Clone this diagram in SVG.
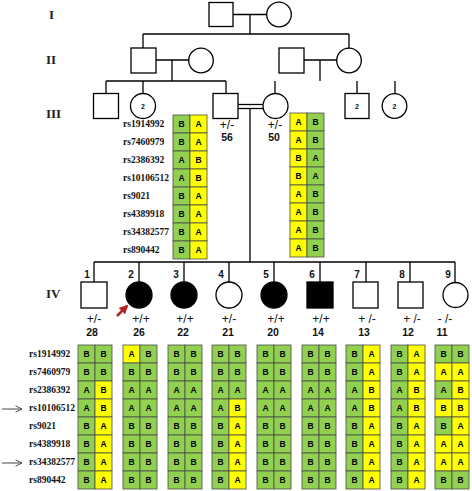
<svg xmlns="http://www.w3.org/2000/svg" width="472" height="491" viewBox="0 0 472 491">
<defs>
<style>
.ln{stroke:#000;stroke-width:1.3;fill:none}
.sym{stroke:#000;stroke-width:1.3;fill:#fff}
.aff{stroke:#000;stroke-width:1.3;fill:#000}
.gen{font-family:"Liberation Serif","Times New Roman",serif;font-weight:bold;font-size:13px;fill:#222}
.snp{font-family:"Liberation Serif","Times New Roman",serif;font-weight:bold;font-size:9.5px;fill:#111}
.num{font-family:"Liberation Sans",Arial,sans-serif;font-weight:bold;font-size:10px;fill:#111;text-anchor:middle}
.gt{font-family:"Liberation Sans",Arial,sans-serif;font-size:12px;fill:#111;text-anchor:middle}
.cnt{font-family:"Liberation Sans",Arial,sans-serif;font-weight:bold;font-size:10.5px;fill:#111;text-anchor:middle}
.sm{font-family:"Liberation Sans",Arial,sans-serif;font-weight:bold;font-size:7px;fill:#111;text-anchor:middle}
.g{fill:#92D050;stroke:#4a4a4a;stroke-width:0.8}
.y{fill:#FFFF00;stroke:#4a4a4a;stroke-width:0.8}
.c{font-family:"Liberation Sans",Arial,sans-serif;font-weight:bold;font-size:8.5px;fill:#000;text-anchor:middle}
</style>
<marker id="ah" viewBox="0 0 10 10" refX="9" refY="5" markerWidth="8" markerHeight="8" orient="auto" markerUnits="userSpaceOnUse">
<path d="M1,1 L9,5 L1,9" fill="none" stroke="#444" stroke-width="1.2"/>
</marker>
<marker id="rh" viewBox="0 0 10 10" refX="8" refY="5" markerWidth="9" markerHeight="9" orient="auto" markerUnits="userSpaceOnUse">
<path d="M0,0 L10,5 L0,10 z" fill="#b22222"/>
</marker>
</defs>

<g id="generation-labels">
<text class="gen" x="49" y="19">I</text>
<text class="gen" x="46" y="64">II</text>
<text class="gen" x="46" y="118">III</text>
<text class="gen" x="46" y="298">IV</text>
</g>

<g id="connectors">
<line class="ln" x1="233" y1="14.5" x2="267" y2="14.5"/>
<line class="ln" x1="250" y1="14.5" x2="250" y2="34"/>
<line class="ln" x1="143" y1="34" x2="349" y2="34"/>
<line class="ln" x1="143" y1="34" x2="143" y2="48"/>
<line class="ln" x1="349" y1="34" x2="349" y2="48"/>
<line class="ln" x1="156" y1="60" x2="189" y2="60"/>
<line class="ln" x1="172" y1="60" x2="172" y2="81"/>
<line class="ln" x1="304" y1="60" x2="337" y2="60"/>
<line class="ln" x1="320" y1="60" x2="320" y2="81"/>
<line class="ln" x1="106" y1="81" x2="226" y2="81"/>
<line class="ln" x1="106" y1="81" x2="106" y2="93"/>
<line class="ln" x1="143" y1="81" x2="143" y2="93.5"/>
<line class="ln" x1="226" y1="81" x2="226" y2="93"/>
<line class="ln" x1="275" y1="81" x2="275" y2="93.5"/>
<line class="ln" x1="357" y1="81" x2="357" y2="93"/>
<line class="ln" x1="395" y1="81" x2="395" y2="93.5"/>
<line class="ln" x1="238" y1="104.5" x2="263" y2="104.5"/>
<line class="ln" x1="238" y1="108.5" x2="263" y2="108.5"/>
<line class="ln" x1="250" y1="108.5" x2="250" y2="262"/>
<line class="ln" x1="94" y1="262" x2="455" y2="262"/>
<line class="ln" x1="94" y1="262" x2="94" y2="282"/>
<line class="ln" x1="139" y1="262" x2="139" y2="282"/>
<line class="ln" x1="184" y1="262" x2="184" y2="282"/>
<line class="ln" x1="229" y1="262" x2="229" y2="282"/>
<line class="ln" x1="274" y1="262" x2="274" y2="282"/>
<line class="ln" x1="320" y1="262" x2="320" y2="282"/>
<line class="ln" x1="366" y1="262" x2="366" y2="282"/>
<line class="ln" x1="410" y1="262" x2="410" y2="282"/>
<line class="ln" x1="455" y1="262" x2="455" y2="282"/>
<line x1="2" y1="409" x2="22" y2="409" stroke="#444" stroke-width="1" marker-end="url(#ah)"/>
<line x1="2" y1="463" x2="22" y2="463" stroke="#444" stroke-width="1" marker-end="url(#ah)"/>
<line x1="117" y1="316" x2="127" y2="306" stroke="#b22222" stroke-width="2.5" marker-end="url(#rh)"/>
</g>

<g id="I-1"><rect class="sym" x="209" y="2.5" width="24" height="24"/></g>
<g id="I-2"><circle class="sym" cx="279" cy="14.5" r="12.3"/></g>
<g id="II-1"><rect class="sym" x="131" y="48" width="25" height="25"/></g>
<g id="II-2"><circle class="sym" cx="201" cy="60.5" r="12.3"/></g>
<g id="II-3"><rect class="sym" x="279" y="48" width="25" height="25"/></g>
<g id="II-4"><circle class="sym" cx="349" cy="60.5" r="12.3"/></g>
<g id="III-1"><rect class="sym" x="93.5" y="93.5" width="25" height="25"/></g>
<g id="III-2"><circle class="sym" cx="143" cy="106" r="12.5"/><text class="sm" x="143" y="108.5">2</text></g>
<g id="III-3"><rect class="sym" x="213" y="93.5" width="25" height="25"/>
<text class="gt" x="227" y="129">+/-</text><text class="cnt" x="227" y="141">56</text></g>
<g id="III-4"><circle class="sym" cx="275.5" cy="106" r="12.5"/>
<text class="gt" x="275" y="129">+/-</text><text class="cnt" x="274" y="141">50</text></g>
<g id="III-5"><rect class="sym" x="345" y="93.5" width="24" height="25"/><text class="sm" x="357" y="108.5">2</text></g>
<g id="III-6"><circle class="sym" cx="394.5" cy="106" r="12.3"/><text class="sm" x="394.5" y="108.5">2</text></g>

<g id="haplotype-III-3">
<text class="snp" x="123" y="127">rs1914992</text>
<text class="snp" x="123" y="145">rs7460979</text>
<text class="snp" x="123" y="163">rs2386392</text>
<text class="snp" x="123" y="181">rs10106512</text>
<text class="snp" x="123" y="199">rs9021</text>
<text class="snp" x="123" y="217">rs4389918</text>
<text class="snp" x="123" y="235">rs34382577</text>
<text class="snp" x="123" y="253">rs890442</text>
<rect class="g" x="173" y="115" width="17" height="18"/><rect class="y" x="190" y="115" width="17" height="18"/>
<rect class="g" x="173" y="133" width="17" height="18"/><rect class="y" x="190" y="133" width="17" height="18"/>
<rect class="g" x="173" y="151" width="17" height="18"/><rect class="y" x="190" y="151" width="17" height="18"/>
<rect class="g" x="173" y="169" width="17" height="18"/><rect class="y" x="190" y="169" width="17" height="18"/>
<rect class="g" x="173" y="187" width="17" height="18"/><rect class="y" x="190" y="187" width="17" height="18"/>
<rect class="g" x="173" y="205" width="17" height="18"/><rect class="y" x="190" y="205" width="17" height="18"/>
<rect class="g" x="173" y="223" width="17" height="18"/><rect class="y" x="190" y="223" width="17" height="18"/>
<rect class="g" x="173" y="241" width="17" height="18"/><rect class="y" x="190" y="241" width="17" height="18"/>
<text class="c" x="181.5" y="127">B</text><text class="c" x="198.5" y="127">A</text>
<text class="c" x="181.5" y="145">B</text><text class="c" x="198.5" y="145">A</text>
<text class="c" x="181.5" y="163">A</text><text class="c" x="198.5" y="163">B</text>
<text class="c" x="181.5" y="181">A</text><text class="c" x="198.5" y="181">B</text>
<text class="c" x="181.5" y="199">B</text><text class="c" x="198.5" y="199">A</text>
<text class="c" x="181.5" y="217">B</text><text class="c" x="198.5" y="217">A</text>
<text class="c" x="181.5" y="235">B</text><text class="c" x="198.5" y="235">A</text>
<text class="c" x="181.5" y="253">B</text><text class="c" x="198.5" y="253">A</text>
</g>

<g id="haplotype-III-4">
<rect class="y" x="290" y="113" width="17" height="18"/><rect class="g" x="307" y="113" width="17" height="18"/>
<rect class="y" x="290" y="131" width="17" height="18"/><rect class="g" x="307" y="131" width="17" height="18"/>
<rect class="y" x="290" y="149" width="17" height="18"/><rect class="g" x="307" y="149" width="17" height="18"/>
<rect class="y" x="290" y="167" width="17" height="18"/><rect class="g" x="307" y="167" width="17" height="18"/>
<rect class="y" x="290" y="185" width="17" height="18"/><rect class="g" x="307" y="185" width="17" height="18"/>
<rect class="y" x="290" y="203" width="17" height="18"/><rect class="g" x="307" y="203" width="17" height="18"/>
<rect class="y" x="290" y="221" width="17" height="18"/><rect class="g" x="307" y="221" width="17" height="18"/>
<rect class="y" x="290" y="239" width="17" height="18"/><rect class="g" x="307" y="239" width="17" height="18"/>
<text class="c" x="298.5" y="125">A</text><text class="c" x="315.5" y="125">B</text>
<text class="c" x="298.5" y="143">A</text><text class="c" x="315.5" y="143">B</text>
<text class="c" x="298.5" y="161">B</text><text class="c" x="315.5" y="161">A</text>
<text class="c" x="298.5" y="179">B</text><text class="c" x="315.5" y="179">A</text>
<text class="c" x="298.5" y="197">A</text><text class="c" x="315.5" y="197">B</text>
<text class="c" x="298.5" y="215">A</text><text class="c" x="315.5" y="215">B</text>
<text class="c" x="298.5" y="233">A</text><text class="c" x="315.5" y="233">B</text>
<text class="c" x="298.5" y="251">A</text><text class="c" x="315.5" y="251">B</text>
</g>

<g id="IV-labels">
<text class="num" x="87" y="278">1</text>
<text class="num" x="131" y="278">2</text>
<text class="num" x="176" y="278">3</text>
<text class="num" x="221" y="278">4</text>
<text class="num" x="266" y="278">5</text>
<text class="num" x="312" y="278">6</text>
<text class="num" x="357" y="278">7</text>
<text class="num" x="402" y="278">8</text>
<text class="num" x="448" y="278">9</text>
</g>

<g id="IV-1"><rect class="sym" x="81" y="282" width="26" height="26"/>
<text class="gt" x="94" y="323">+/-</text><text class="cnt" x="92" y="336">28</text></g>
<g id="IV-2"><circle class="aff" cx="139" cy="295" r="13"/>
<text class="gt" x="141" y="323">+/+</text><text class="cnt" x="139" y="336">26</text></g>
<g id="IV-3"><circle class="aff" cx="184" cy="295" r="13"/>
<text class="gt" x="185" y="323">+/+</text><text class="cnt" x="183" y="336">22</text></g>
<g id="IV-4"><circle class="sym" cx="229" cy="295" r="13"/>
<text class="gt" x="229" y="323">+/-</text><text class="cnt" x="228" y="336">21</text></g>
<g id="IV-5"><circle class="aff" cx="274" cy="295" r="13"/>
<text class="gt" x="276" y="323">+/+</text><text class="cnt" x="273" y="336">20</text></g>
<g id="IV-6"><rect class="aff" x="307" y="282" width="26" height="26"/>
<text class="gt" x="321" y="323">+/+</text><text class="cnt" x="318" y="336">14</text></g>
<g id="IV-7"><rect class="sym" x="353" y="282" width="25" height="26"/>
<text class="gt" x="367" y="323">+ /-</text><text class="cnt" x="364" y="336">13</text></g>
<g id="IV-8"><rect class="sym" x="398" y="282" width="25" height="26"/>
<text class="gt" x="412" y="323">+ /-</text><text class="cnt" x="408" y="336">12</text></g>
<g id="IV-9"><circle class="sym" cx="455.5" cy="295" r="12.5"/>
<text class="gt" x="445" y="323">- /-</text><text class="cnt" x="442" y="336">11</text></g>

<g id="snp-labels-IV">
<text class="snp" x="29" y="357">rs1914992</text>
<text class="snp" x="29" y="375">rs7460979</text>
<text class="snp" x="29" y="393">rs2386392</text>
<text class="snp" x="29" y="411">rs10106512</text>
<text class="snp" x="29" y="429">rs9021</text>
<text class="snp" x="29" y="447">rs4389918</text>
<text class="snp" x="29" y="465">rs34382577</text>
<text class="snp" x="29" y="483">rs890442</text>
</g>

<g id="haplotype-IV-1">
<rect class="g" x="78" y="345" width="17" height="18"/><rect class="g" x="95" y="345" width="17" height="18"/>
<rect class="g" x="78" y="363" width="17" height="18"/><rect class="g" x="95" y="363" width="17" height="18"/>
<rect class="g" x="78" y="381" width="17" height="18"/><rect class="y" x="95" y="381" width="17" height="18"/>
<rect class="g" x="78" y="399" width="17" height="18"/><rect class="y" x="95" y="399" width="17" height="18"/>
<rect class="g" x="78" y="417" width="17" height="18"/><rect class="y" x="95" y="417" width="17" height="18"/>
<rect class="g" x="78" y="435" width="17" height="18"/><rect class="y" x="95" y="435" width="17" height="18"/>
<rect class="g" x="78" y="453" width="17" height="18"/><rect class="y" x="95" y="453" width="17" height="18"/>
<rect class="g" x="78" y="471" width="17" height="18"/><rect class="y" x="95" y="471" width="17" height="18"/>
<text class="c" x="86.5" y="357">B</text><text class="c" x="103.5" y="357">B</text>
<text class="c" x="86.5" y="375">B</text><text class="c" x="103.5" y="375">B</text>
<text class="c" x="86.5" y="393">A</text><text class="c" x="103.5" y="393">B</text>
<text class="c" x="86.5" y="411">A</text><text class="c" x="103.5" y="411">B</text>
<text class="c" x="86.5" y="429">B</text><text class="c" x="103.5" y="429">A</text>
<text class="c" x="86.5" y="447">B</text><text class="c" x="103.5" y="447">A</text>
<text class="c" x="86.5" y="465">B</text><text class="c" x="103.5" y="465">A</text>
<text class="c" x="86.5" y="483">B</text><text class="c" x="103.5" y="483">A</text>
</g>

<g id="haplotype-IV-2">
<rect class="y" x="123" y="345" width="17" height="18"/><rect class="g" x="140" y="345" width="17" height="18"/>
<rect class="g" x="123" y="363" width="17" height="18"/><rect class="g" x="140" y="363" width="17" height="18"/>
<rect class="g" x="123" y="381" width="17" height="18"/><rect class="g" x="140" y="381" width="17" height="18"/>
<rect class="g" x="123" y="399" width="17" height="18"/><rect class="g" x="140" y="399" width="17" height="18"/>
<rect class="g" x="123" y="417" width="17" height="18"/><rect class="g" x="140" y="417" width="17" height="18"/>
<rect class="g" x="123" y="435" width="17" height="18"/><rect class="g" x="140" y="435" width="17" height="18"/>
<rect class="g" x="123" y="453" width="17" height="18"/><rect class="g" x="140" y="453" width="17" height="18"/>
<rect class="g" x="123" y="471" width="17" height="18"/><rect class="g" x="140" y="471" width="17" height="18"/>
<text class="c" x="131.5" y="357">A</text><text class="c" x="148.5" y="357">B</text>
<text class="c" x="131.5" y="375">B</text><text class="c" x="148.5" y="375">B</text>
<text class="c" x="131.5" y="393">A</text><text class="c" x="148.5" y="393">A</text>
<text class="c" x="131.5" y="411">A</text><text class="c" x="148.5" y="411">A</text>
<text class="c" x="131.5" y="429">B</text><text class="c" x="148.5" y="429">B</text>
<text class="c" x="131.5" y="447">B</text><text class="c" x="148.5" y="447">B</text>
<text class="c" x="131.5" y="465">B</text><text class="c" x="148.5" y="465">B</text>
<text class="c" x="131.5" y="483">B</text><text class="c" x="148.5" y="483">B</text>
</g>

<g id="haplotype-IV-3">
<rect class="g" x="168" y="345" width="17" height="18"/><rect class="g" x="185" y="345" width="17" height="18"/>
<rect class="g" x="168" y="363" width="17" height="18"/><rect class="g" x="185" y="363" width="17" height="18"/>
<rect class="g" x="168" y="381" width="17" height="18"/><rect class="g" x="185" y="381" width="17" height="18"/>
<rect class="g" x="168" y="399" width="17" height="18"/><rect class="g" x="185" y="399" width="17" height="18"/>
<rect class="g" x="168" y="417" width="17" height="18"/><rect class="g" x="185" y="417" width="17" height="18"/>
<rect class="g" x="168" y="435" width="17" height="18"/><rect class="g" x="185" y="435" width="17" height="18"/>
<rect class="g" x="168" y="453" width="17" height="18"/><rect class="g" x="185" y="453" width="17" height="18"/>
<rect class="g" x="168" y="471" width="17" height="18"/><rect class="g" x="185" y="471" width="17" height="18"/>
<text class="c" x="176.5" y="357">B</text><text class="c" x="193.5" y="357">B</text>
<text class="c" x="176.5" y="375">B</text><text class="c" x="193.5" y="375">B</text>
<text class="c" x="176.5" y="393">A</text><text class="c" x="193.5" y="393">A</text>
<text class="c" x="176.5" y="411">A</text><text class="c" x="193.5" y="411">A</text>
<text class="c" x="176.5" y="429">B</text><text class="c" x="193.5" y="429">B</text>
<text class="c" x="176.5" y="447">B</text><text class="c" x="193.5" y="447">B</text>
<text class="c" x="176.5" y="465">B</text><text class="c" x="193.5" y="465">B</text>
<text class="c" x="176.5" y="483">B</text><text class="c" x="193.5" y="483">B</text>
</g>

<g id="haplotype-IV-4">
<rect class="g" x="212" y="345" width="17" height="18"/><rect class="g" x="229" y="345" width="17" height="18"/>
<rect class="g" x="212" y="363" width="17" height="18"/><rect class="g" x="229" y="363" width="17" height="18"/>
<rect class="g" x="212" y="381" width="17" height="18"/><rect class="g" x="229" y="381" width="17" height="18"/>
<rect class="g" x="212" y="399" width="17" height="18"/><rect class="y" x="229" y="399" width="17" height="18"/>
<rect class="g" x="212" y="417" width="17" height="18"/><rect class="y" x="229" y="417" width="17" height="18"/>
<rect class="g" x="212" y="435" width="17" height="18"/><rect class="y" x="229" y="435" width="17" height="18"/>
<rect class="g" x="212" y="453" width="17" height="18"/><rect class="y" x="229" y="453" width="17" height="18"/>
<rect class="g" x="212" y="471" width="17" height="18"/><rect class="y" x="229" y="471" width="17" height="18"/>
<text class="c" x="220.5" y="357">B</text><text class="c" x="237.5" y="357">B</text>
<text class="c" x="220.5" y="375">B</text><text class="c" x="237.5" y="375">B</text>
<text class="c" x="220.5" y="393">A</text><text class="c" x="237.5" y="393">A</text>
<text class="c" x="220.5" y="411">A</text><text class="c" x="237.5" y="411">B</text>
<text class="c" x="220.5" y="429">B</text><text class="c" x="237.5" y="429">A</text>
<text class="c" x="220.5" y="447">B</text><text class="c" x="237.5" y="447">A</text>
<text class="c" x="220.5" y="465">B</text><text class="c" x="237.5" y="465">A</text>
<text class="c" x="220.5" y="483">B</text><text class="c" x="237.5" y="483">A</text>
</g>

<g id="haplotype-IV-5">
<rect class="g" x="257" y="345" width="17" height="18"/><rect class="g" x="274" y="345" width="17" height="18"/>
<rect class="g" x="257" y="363" width="17" height="18"/><rect class="g" x="274" y="363" width="17" height="18"/>
<rect class="g" x="257" y="381" width="17" height="18"/><rect class="g" x="274" y="381" width="17" height="18"/>
<rect class="g" x="257" y="399" width="17" height="18"/><rect class="g" x="274" y="399" width="17" height="18"/>
<rect class="g" x="257" y="417" width="17" height="18"/><rect class="g" x="274" y="417" width="17" height="18"/>
<rect class="g" x="257" y="435" width="17" height="18"/><rect class="g" x="274" y="435" width="17" height="18"/>
<rect class="g" x="257" y="453" width="17" height="18"/><rect class="g" x="274" y="453" width="17" height="18"/>
<rect class="g" x="257" y="471" width="17" height="18"/><rect class="g" x="274" y="471" width="17" height="18"/>
<text class="c" x="265.5" y="357">B</text><text class="c" x="282.5" y="357">B</text>
<text class="c" x="265.5" y="375">B</text><text class="c" x="282.5" y="375">B</text>
<text class="c" x="265.5" y="393">A</text><text class="c" x="282.5" y="393">A</text>
<text class="c" x="265.5" y="411">A</text><text class="c" x="282.5" y="411">A</text>
<text class="c" x="265.5" y="429">B</text><text class="c" x="282.5" y="429">B</text>
<text class="c" x="265.5" y="447">B</text><text class="c" x="282.5" y="447">B</text>
<text class="c" x="265.5" y="465">B</text><text class="c" x="282.5" y="465">B</text>
<text class="c" x="265.5" y="483">B</text><text class="c" x="282.5" y="483">B</text>
</g>

<g id="haplotype-IV-6">
<rect class="g" x="302" y="345" width="17" height="18"/><rect class="g" x="319" y="345" width="17" height="18"/>
<rect class="g" x="302" y="363" width="17" height="18"/><rect class="g" x="319" y="363" width="17" height="18"/>
<rect class="g" x="302" y="381" width="17" height="18"/><rect class="g" x="319" y="381" width="17" height="18"/>
<rect class="g" x="302" y="399" width="17" height="18"/><rect class="g" x="319" y="399" width="17" height="18"/>
<rect class="g" x="302" y="417" width="17" height="18"/><rect class="g" x="319" y="417" width="17" height="18"/>
<rect class="g" x="302" y="435" width="17" height="18"/><rect class="g" x="319" y="435" width="17" height="18"/>
<rect class="g" x="302" y="453" width="17" height="18"/><rect class="g" x="319" y="453" width="17" height="18"/>
<rect class="g" x="302" y="471" width="17" height="18"/><rect class="g" x="319" y="471" width="17" height="18"/>
<text class="c" x="310.5" y="357">B</text><text class="c" x="327.5" y="357">B</text>
<text class="c" x="310.5" y="375">B</text><text class="c" x="327.5" y="375">B</text>
<text class="c" x="310.5" y="393">A</text><text class="c" x="327.5" y="393">A</text>
<text class="c" x="310.5" y="411">A</text><text class="c" x="327.5" y="411">A</text>
<text class="c" x="310.5" y="429">B</text><text class="c" x="327.5" y="429">B</text>
<text class="c" x="310.5" y="447">B</text><text class="c" x="327.5" y="447">B</text>
<text class="c" x="310.5" y="465">B</text><text class="c" x="327.5" y="465">B</text>
<text class="c" x="310.5" y="483">B</text><text class="c" x="327.5" y="483">B</text>
</g>

<g id="haplotype-IV-7">
<rect class="g" x="346" y="345" width="17" height="18"/><rect class="y" x="363" y="345" width="17" height="18"/>
<rect class="g" x="346" y="363" width="17" height="18"/><rect class="y" x="363" y="363" width="17" height="18"/>
<rect class="g" x="346" y="381" width="17" height="18"/><rect class="y" x="363" y="381" width="17" height="18"/>
<rect class="g" x="346" y="399" width="17" height="18"/><rect class="y" x="363" y="399" width="17" height="18"/>
<rect class="g" x="346" y="417" width="17" height="18"/><rect class="y" x="363" y="417" width="17" height="18"/>
<rect class="g" x="346" y="435" width="17" height="18"/><rect class="y" x="363" y="435" width="17" height="18"/>
<rect class="g" x="346" y="453" width="17" height="18"/><rect class="y" x="363" y="453" width="17" height="18"/>
<rect class="g" x="346" y="471" width="17" height="18"/><rect class="y" x="363" y="471" width="17" height="18"/>
<text class="c" x="354.5" y="357">B</text><text class="c" x="371.5" y="357">A</text>
<text class="c" x="354.5" y="375">B</text><text class="c" x="371.5" y="375">A</text>
<text class="c" x="354.5" y="393">A</text><text class="c" x="371.5" y="393">B</text>
<text class="c" x="354.5" y="411">A</text><text class="c" x="371.5" y="411">B</text>
<text class="c" x="354.5" y="429">B</text><text class="c" x="371.5" y="429">A</text>
<text class="c" x="354.5" y="447">B</text><text class="c" x="371.5" y="447">A</text>
<text class="c" x="354.5" y="465">B</text><text class="c" x="371.5" y="465">A</text>
<text class="c" x="354.5" y="483">B</text><text class="c" x="371.5" y="483">A</text>
</g>

<g id="haplotype-IV-8">
<rect class="g" x="391" y="345" width="17" height="18"/><rect class="y" x="408" y="345" width="17" height="18"/>
<rect class="g" x="391" y="363" width="17" height="18"/><rect class="y" x="408" y="363" width="17" height="18"/>
<rect class="g" x="391" y="381" width="17" height="18"/><rect class="y" x="408" y="381" width="17" height="18"/>
<rect class="g" x="391" y="399" width="17" height="18"/><rect class="y" x="408" y="399" width="17" height="18"/>
<rect class="g" x="391" y="417" width="17" height="18"/><rect class="y" x="408" y="417" width="17" height="18"/>
<rect class="g" x="391" y="435" width="17" height="18"/><rect class="y" x="408" y="435" width="17" height="18"/>
<rect class="g" x="391" y="453" width="17" height="18"/><rect class="y" x="408" y="453" width="17" height="18"/>
<rect class="g" x="391" y="471" width="17" height="18"/><rect class="y" x="408" y="471" width="17" height="18"/>
<text class="c" x="399.5" y="357">B</text><text class="c" x="416.5" y="357">A</text>
<text class="c" x="399.5" y="375">B</text><text class="c" x="416.5" y="375">A</text>
<text class="c" x="399.5" y="393">A</text><text class="c" x="416.5" y="393">B</text>
<text class="c" x="399.5" y="411">A</text><text class="c" x="416.5" y="411">B</text>
<text class="c" x="399.5" y="429">B</text><text class="c" x="416.5" y="429">A</text>
<text class="c" x="399.5" y="447">B</text><text class="c" x="416.5" y="447">A</text>
<text class="c" x="399.5" y="465">B</text><text class="c" x="416.5" y="465">A</text>
<text class="c" x="399.5" y="483">B</text><text class="c" x="416.5" y="483">A</text>
</g>

<g id="haplotype-IV-9">
<rect class="g" x="435" y="345" width="17" height="18"/><rect class="g" x="452" y="345" width="17" height="18"/>
<rect class="y" x="435" y="363" width="17" height="18"/><rect class="y" x="452" y="363" width="17" height="18"/>
<rect class="g" x="435" y="381" width="17" height="18"/><rect class="y" x="452" y="381" width="17" height="18"/>
<rect class="y" x="435" y="399" width="17" height="18"/><rect class="y" x="452" y="399" width="17" height="18"/>
<rect class="g" x="435" y="417" width="17" height="18"/><rect class="y" x="452" y="417" width="17" height="18"/>
<rect class="y" x="435" y="435" width="17" height="18"/><rect class="y" x="452" y="435" width="17" height="18"/>
<rect class="y" x="435" y="453" width="17" height="18"/><rect class="y" x="452" y="453" width="17" height="18"/>
<rect class="g" x="435" y="471" width="17" height="18"/><rect class="g" x="452" y="471" width="17" height="18"/>
<text class="c" x="443.5" y="357">B</text><text class="c" x="460.5" y="357">B</text>
<text class="c" x="443.5" y="375">A</text><text class="c" x="460.5" y="375">A</text>
<text class="c" x="443.5" y="393">A</text><text class="c" x="460.5" y="393">B</text>
<text class="c" x="443.5" y="411">B</text><text class="c" x="460.5" y="411">B</text>
<text class="c" x="443.5" y="429">B</text><text class="c" x="460.5" y="429">A</text>
<text class="c" x="443.5" y="447">A</text><text class="c" x="460.5" y="447">A</text>
<text class="c" x="443.5" y="465">A</text><text class="c" x="460.5" y="465">A</text>
<text class="c" x="443.5" y="483">B</text><text class="c" x="460.5" y="483">B</text>
</g>
</svg>
